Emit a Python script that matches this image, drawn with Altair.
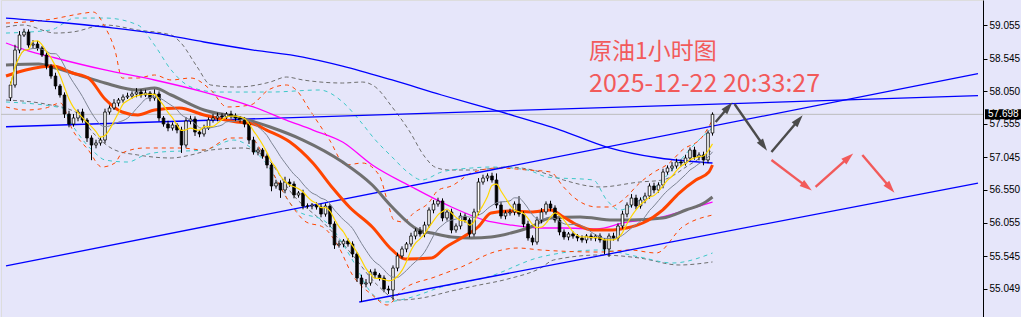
import math
import altair as alt
import pandas as pd

# ---------------- data (bar index, price) ----------------
first_open = 57.95
closes = [
 58.144,58.675,58.903,58.949,58.751,58.766,58.706,58.599,58.432,58.280,
 58.129,57.992,57.703,57.551,57.643,57.734,57.612,57.339,57.232,57.263,
 57.308,57.734,57.794,57.870,57.916,57.961,57.977,58.007,58.037,57.992,
 58.022,57.946,58.007,57.643,57.551,57.491,57.536,57.460,57.232,57.597,
 57.627,57.430,57.400,57.491,57.612,57.643,57.673,57.658,57.703,57.673,
 57.643,57.612,57.551,57.308,57.126,57.156,57.065,56.929,56.610,56.655,
 56.549,56.670,56.640,56.473,56.503,56.306,56.306,56.321,56.291,56.184,
 56.306,56.033,55.714,55.729,55.774,55.729,55.577,55.212,55.121,55.136,
 55.304,55.258,55.212,55.045,55.030,55.364,55.547,55.653,55.729,55.850,
 55.926,55.881,56.017,56.245,56.336,56.382,56.124,56.215,55.941,56.002,
 56.154,56.093,55.881,56.215,56.670,56.731,56.762,56.701,56.321,56.154,
 56.200,56.215,56.336,56.184,56.033,55.820,55.759,56.093,56.215,56.336,
 56.276,56.093,55.911,55.835,55.881,55.850,55.820,55.790,55.850,55.820,
 55.850,55.790,55.653,55.850,55.820,56.002,56.184,56.321,56.427,56.306,
 56.397,56.458,56.610,56.549,56.625,56.822,56.883,56.913,56.974,56.959,
 57.035,57.156,57.050,57.081,57.005,57.415,57.698]
wick_up = [
 0.05,0.08,0.06,0.05,0.04,0.06,0.05,0.03,0.04,0.03,
 0.05,0.03,0.04,0.05,0.06,0.04,0.05,0.03,0.04,0.05,
 0.04,0.05,0.04,0.06,0.03,0.04,0.05,0.04,0.06,0.04,
 0.05,0.03,0.07,0.04,0.03,0.05,0.04,0.03,0.05,0.06,
 0.05,0.04,0.03,0.05,0.04,0.06,0.05,0.04,0.03,0.05,
 0.04,0.03,0.04,0.03,0.05,0.04,0.03,0.04,0.03,0.05,
 0.04,0.08,0.05,0.04,0.03,0.05,0.04,0.03,0.04,0.05,
 0.04,0.03,0.04,0.05,0.03,0.04,0.04,0.03,0.05,0.06,
 0.04,0.05,0.03,0.04,0.05,0.04,0.05,0.04,0.03,0.05,
 0.04,0.06,0.05,0.04,0.06,0.05,0.04,0.03,0.05,0.04,
 0.05,0.04,0.03,0.05,0.06,0.05,0.04,0.05,0.10,0.05,
 0.04,0.05,0.04,0.12,0.04,0.05,0.04,0.05,0.06,0.04,
 0.05,0.04,0.03,0.04,0.03,0.04,0.03,0.04,0.03,0.04,
 0.03,0.04,0.03,0.04,0.05,0.04,0.05,0.04,0.06,0.05,
 0.04,0.05,0.04,0.05,0.04,0.05,0.04,0.06,0.05,0.04,
 0.05,0.04,0.05,0.04,0.05,0.04,0.03]
wick_dn = [
 0.05,0.04,0.05,0.03,0.04,0.05,0.04,0.03,0.05,0.04,
 0.05,0.04,0.06,0.05,0.04,0.05,0.04,0.06,0.23,0.05,
 0.04,0.05,0.04,0.03,0.05,0.04,0.03,0.04,0.05,0.04,
 0.03,0.05,0.04,0.05,0.04,0.05,0.04,0.05,0.12,0.04,
 0.05,0.06,0.05,0.04,0.03,0.04,0.05,0.04,0.03,0.04,
 0.05,0.04,0.05,0.06,0.04,0.05,0.04,0.05,0.08,0.04,
 0.12,0.05,0.04,0.05,0.04,0.05,0.04,0.05,0.04,0.05,
 0.04,0.05,0.06,0.04,0.05,0.04,0.05,0.06,0.27,0.05,
 0.04,0.05,0.04,0.05,0.06,0.15,0.05,0.04,0.05,0.04,
 0.05,0.04,0.05,0.04,0.05,0.04,0.05,0.04,0.05,0.04,
 0.05,0.04,0.05,0.04,0.05,0.04,0.05,0.04,0.05,0.04,
 0.05,0.04,0.05,0.04,0.05,0.04,0.05,0.04,0.05,0.04,
 0.05,0.04,0.05,0.04,0.05,0.04,0.05,0.04,0.05,0.04,
 0.05,0.04,0.08,0.12,0.04,0.05,0.04,0.05,0.04,0.05,
 0.04,0.05,0.04,0.05,0.04,0.05,0.04,0.05,0.04,0.05,
 0.04,0.05,0.04,0.05,0.08,0.05,0.04]

ma_blue = [(-1,59.161),(10,59.101),(21,59.025),(32,58.933),(43,58.797),(54,58.675),
 (65,58.569),(73.8,58.432),(84.8,58.220),(95.8,57.992),(109,57.734),(122.2,57.460),
 (132.5,57.202),(144.2,57.035),(156,56.959)]
ma_magenta = [(-1,58.782),(3.4,58.675),(10,58.554),(21,58.372),(32,58.220),(43,58.037),
 (54,57.810),(61.3,57.612),(67.2,57.460),(73.8,57.278),(80.4,56.929),(89.2,56.595),
 (98,56.291),(105.3,56.093),(111.2,56.017),(117.8,55.972),(122.9,55.972),(130.3,55.957),
 (136.1,56.048),(144.9,56.139),(150.1,56.245),(156,56.367)]
ma_gray = [(-1,58.447),(6.3,58.463),(10,58.402),(17.3,58.250),(21,58.174),(28.3,58.068),
 (32,58.098),(35.7,57.992),(43,57.764),(50.3,57.658),(57.7,57.506),(65,57.308),
 (73.8,56.974),(80.4,56.625),(84.8,56.291),(90.7,55.941),(93.6,55.896),(98,55.835),
 (102.4,55.820),(106.8,55.835),(111.2,55.896),(115.6,55.987),(120,56.124),(126.6,56.139),
 (133.9,56.093),(137.6,56.093),(144.9,56.124),(150.1,56.245),(154.5,56.367),(156,56.443)]
ma_orange = [(-1,58.281),(3.4,58.372),(9.4,58.432),(13.8,58.326),(17.3,58.250),(21,57.931),
 (24.8,57.734),(28.3,57.688),(32,57.764),(37.5,57.794),(43,57.688),(50.3,57.582),
 (54,57.551),(56.9,57.460),(62.1,57.278),(67.2,56.959),(71.6,56.579),(75.3,56.291),
 (80.4,55.987),(84.8,55.638),(87.7,55.501),(93.6,55.516),(96.5,55.668),(100.2,55.820),
 (103.9,55.987),(106.8,56.200),(111.2,56.230),(115.6,56.215),(120,56.245),(122.9,56.139),
 (126,56.017),(129.5,55.941),(133.9,55.941),(136.9,55.972),(140.5,56.048),(144.9,56.245),
 (148.6,56.503),(152.3,56.701),(155.2,56.822),(156,56.929)]

band_orange_up = [(-1,59.085),(3.4,59.101),(7.8,59.131),(16.6,59.237),(18.4,59.252),(21,59.025),
 (23.2,58.675),(24.8,58.250),(28.3,58.250),(32,58.296),(35.7,58.220),(40.1,58.250),
 (44.5,58.068),(48.1,57.810),(53.3,57.840),(57.3,58.068),(61.3,58.144),(63.5,58.068),
 (66.5,57.764),(70.9,57.308),(74.5,56.929),(78.2,56.959),(81.9,56.777),(83.7,56.397),
 (85.2,56.093),(87.4,56.063),(89.6,56.200),(92.9,56.352),(95.1,56.549),(98,56.610),
 (102.4,56.807),(108.3,56.883),(114.9,56.853),(120,56.822),(122.9,56.595),(125.1,56.443),
 (130.3,56.291),(133.2,56.291),(136.1,56.397),(139.8,56.655),(142.7,56.807),(146.4,56.959),
 (149.3,57.156),(153.7,57.354),(156,57.612)]
band_orange_dn = [(-1,57.810),(3.4,57.764),(7.8,57.794),(11.1,57.870),(13.8,57.460),(17.3,57.156),
 (20.3,56.898),(23.2,56.959),(24.8,57.111),(29.8,57.187),(37.9,57.187),(43,57.156),
 (48.9,57.339),(53.3,57.339),(57.3,56.929),(62.1,56.352),(65.7,56.063),(69.4,55.987),
 (72.7,55.714),(76,55.258),(80.4,54.954),(83.7,54.802),(87,55.030),(94.3,55.228),
 (100.2,55.380),(107.5,55.607),(112.7,55.668),(117.8,55.638),(131,55.607),(137.6,55.638),
 (143.5,55.592),(149.3,55.987),(156,56.169)]
band_cyan_up = [(-1,58.933),(8.9,58.979),(14.4,59.161),(21,59.161),(28.3,59.055),(32,58.751),
 (35.7,58.372),(40.1,58.113),(45.9,58.037),(57.7,58.037),(68.7,58.068),(73.8,57.886),
 (77.5,57.612),(81.1,57.308),(84.8,57.050),(88.5,56.807),(91.4,56.701),(95.8,56.822),
 (102.4,56.883),(106.8,56.898),(114.9,56.853),(119.3,56.746),(129.5,56.701),(132.5,56.397),
 (135.4,56.245),(139.8,56.397),(142.6,56.549),(146.4,56.807),(149.3,57.035),(152.3,57.263),
 (156,57.491)]
band_cyan_dn = [(-1,57.886),(11.5,57.794),(13.3,57.582),(18.8,57.111),(21,57.005),(26.1,56.974),
 (29.8,57.081),(33.5,57.126),(43,57.156),(49.6,57.308),(56.2,57.005),(63.5,56.245),
 (70.1,56.063),(76,55.486),(79.7,55.030),(83.3,54.848),(88.5,54.909),(95.8,55.076),
 (106.1,55.228),(117.8,55.531),(131,55.638),(139.8,55.531),(147.1,55.440),(156,55.592)]
band_gray_up = [(-1,59.025),(2.8,59.055),(10,58.933),(13.8,58.949),(21,59.055),(28.3,58.979),
 (35.7,58.903),(37.9,58.782),(41.5,58.417),(44.5,58.144),(50.3,58.113),(57.7,58.189),
 (61.3,58.265),(65,58.220),(73.8,58.174),(78.2,58.189),(81.1,58.113),(84.8,57.810),
 (88.5,57.460),(92.1,57.050),(94.3,56.898),(97.3,56.853),(103.1,56.853),(110.5,56.898),
 (117.8,56.822),(122.9,56.701),(131,56.595),(139.8,56.670),(144.9,56.701),(150.8,56.929),
 (156,57.156)]
band_gray_dn = [(-1,57.916),(7.8,57.855),(14.4,57.734),(18.8,57.384),(23.2,57.156),(28.3,57.081),
 (35.7,57.035),(40.1,57.081),(44.5,57.156),(51.8,57.187),(57.3,57.005),(62.8,56.473),
 (69.4,56.063),(76,55.562),(81.5,55.106),(86.3,54.878),(91.4,54.909),(98,55.015),
 (103.1,55.091),(110.5,55.197),(117.8,55.364),(120.7,55.486),(131,55.562),(139.8,55.516),
 (148.6,55.410),(156,55.456)]

trend_flat = [(-1,57.510),(215,57.981)]
trend_upper = [(-1,55.395),(215,58.317)]
trend_lower = [(77.5,54.848),(215,56.655)]

last_price = 57.698
tick_vals = [59.055,58.545,58.050,57.555,57.045,56.550,56.055,55.545,55.049]

arrow_kind = ["gray","gray","gray","red","red","red"]
arrow_i0 = [156.7,160.9,169.1,169.1,178.9,189.3]
arrow_p0 = [57.582,57.855,57.126,57.005,56.595,57.081]
arrow_i1 = [160.3,168.0,175.9,177.9,187.1,196.3]
arrow_p1 = [57.870,57.156,57.673,56.549,57.096,56.519]

title_line1 = "原油1小时图"
title_line2 = "2025-12-22 20:33:27"

# ---------------- setup ----------------
W, H = 982, 317
X_DOM = [-1, 215]
Y_DOM = [54.62, 59.435]
xs = alt.Scale(domain=X_DOM, nice=False, zero=False)
ys = alt.Scale(domain=Y_DOM, nice=False, zero=False)
BG = "#e6e6fa"

yaxis = alt.Axis(values=tick_vals, format=".3f", orient="right", title=None,
                 grid=False, domainColor="black", domainWidth=1, tickColor="black",
                 tickSize=4, labelFont="Liberation Sans", labelFontSize=10,
                 labelColor="black", labelPadding=2, labelOverlap=False,
                 labelFlush=False)

opens = [first_open] + closes[:-1]
df = pd.DataFrame({
    "i": list(range(len(closes))),
    "o": opens,
    "c": closes,
})
df["hi"] = [max(o, c) + w for o, c, w in zip(opens, closes, wick_up)]
df["lo"] = [min(o, c) - w for o, c, w in zip(opens, closes, wick_dn)]

def X(field="i"):
    return alt.X(f"{field}:Q", scale=xs, axis=None)

def Y(field="p"):
    return alt.Y(f"{field}:Q", scale=ys, axis=yaxis)

def line_layer(pts, color, width, dash=None, interp="monotone"):
    d = pd.DataFrame(pts, columns=["i", "p"])
    kw = dict(color=color, strokeWidth=width, interpolate=interp, clip=True)
    if dash:
        kw["strokeDash"] = dash
    return alt.Chart(d).mark_line(**kw).encode(x=X(), y=Y(), order="i:Q")

layers = []
# bands
layers.append(line_layer(band_gray_up, "#6e6e6e", 1, [4, 3]))
layers.append(line_layer(band_gray_dn, "#6e6e6e", 1, [4, 3]))
layers.append(line_layer(band_cyan_up, "#3cc8c8", 1, [4, 4]))
layers.append(line_layer(band_cyan_dn, "#3cc8c8", 1, [4, 4]))
layers.append(line_layer(band_orange_up, "#ff4500", 1, [4, 4]))
layers.append(line_layer(band_orange_dn, "#ff4500", 1, [4, 4]))

# current price line
layers.append(alt.Chart(pd.DataFrame({"p": [last_price]})).mark_rule(
    color="#bdbdbd", strokeWidth=1).encode(y=Y()))

# trend lines
for t in (trend_flat, trend_upper, trend_lower):
    layers.append(line_layer(t, "#0000ff", 1.3, None, "linear"))

# moving averages
layers.append(line_layer(ma_blue, "#0000ff", 1.3))
layers.append(line_layer(ma_magenta, "#ff00ff", 1.3))
layers.append(line_layer(ma_gray, "#707070", 3))
layers.append(line_layer(ma_orange, "#ff4500", 3))

base = alt.Chart(df)
wicks = base.mark_rule(color="black", strokeWidth=1).encode(
    x=X(), y=Y("lo"), y2="hi:Q")
bodies = base.mark_bar(size=2.6, stroke="black", strokeWidth=0.8).encode(
    x=X(), y=Y("o"), y2="c:Q",
    fill=alt.condition("datum.c >= datum.o", alt.value("white"), alt.value("black")))
layers += [wicks, bodies]

# short MAs computed from the closes
ma5 = base.transform_window(m="mean(c)", frame=[-4, 0], sort=[{"field": "i"}]).mark_line(
    color="#ffd700", strokeWidth=1.2, interpolate="monotone").encode(x=X(), y=Y("m"))
ma10 = base.transform_window(m="mean(c)", frame=[-9, 0], sort=[{"field": "i"}]).mark_line(
    color="#7d8494", strokeWidth=1, interpolate="monotone").encode(x=X(), y=Y("m"))
layers += [ma10, ma5]

# arrows
sx = W / (X_DOM[1] - X_DOM[0])
sy = H / (Y_DOM[1] - Y_DOM[0])
rows = []
for k, a, b, c, d in zip(arrow_kind, arrow_i0, arrow_p0, arrow_i1, arrow_p1):
    dxp = (c - a) * sx
    dyp = (d - b) * sy
    L = math.hypot(dxp, dyp)
    ang = math.degrees(math.atan2(dxp, dyp)) % 360
    back = 6.0
    rows.append({"k": k, "i0": a, "p0": b,
                 "i1": c - dxp / L * back / sx, "p1": d - dyp / L * back / sy,
                 "hx": c - dxp / L * back / sx, "hy": d - dyp / L * back / sy,
                 "ang": ang})
adf = pd.DataFrame(rows)
acol = alt.Scale(domain=["gray", "red"], range=["#4b4b4b", "#f25a5a"])
shafts = alt.Chart(adf).mark_rule(strokeWidth=2.4).encode(
    x=X("i0"), y=Y("p0"), x2="i1:Q", y2="p1:Q",
    color=alt.Color("k:N", scale=acol, legend=None))
heads = alt.Chart(adf).mark_point(
    shape="M0,-1L0.55,0.8L-0.55,0.8Z", filled=True, opacity=1, size=190, strokeWidth=0).encode(
    x=X("hx"), y=Y("hy"), angle=alt.Angle("ang:Q", scale=None),
    fill=alt.Fill("k:N", scale=acol, legend=None))
layers += [shafts, heads]

# title texts
t1 = alt.Chart(pd.DataFrame({"t": [title_line1]})).mark_text(
    align="left", baseline="alphabetic", font="Noto Sans CJK SC", fontSize=23,
    color="#f25a5a").encode(x=alt.value(588), y=alt.value(59), text="t:N")
t2 = alt.Chart(pd.DataFrame({"t": [title_line2]})).mark_text(
    align="left", baseline="alphabetic", font="Noto Sans CJK SC", fontSize=25,
    color="#f25a5a").encode(x=alt.value(588), y=alt.value(92), text="t:N")
layers += [t1, t2]

# price box on the axis
pdf = pd.DataFrame({"p": [last_price], "t": [f"{last_price:.3f}"]})
pbox = alt.Chart(pdf).mark_rect(color="black", yOffset=-5, y2Offset=5).encode(
    x=alt.value(984), x2=alt.value(1020), y=Y(), y2="p:Q")
ptxt = alt.Chart(pdf).mark_text(align="left", baseline="middle", color="white",
    font="Liberation Sans", fontSize=10).encode(x=alt.value(987), y=Y(), text="t:N")
layers += [pbox, ptxt]

chart = alt.layer(*layers).properties(
    width=W, height=H, padding={"left": 0, "top": 0, "right": 0, "bottom": 0}
).configure_view(stroke=None, fill=BG).configure(background=BG)

chart.save("out.html", embed_options={"renderer": "svg", "actions": False})
